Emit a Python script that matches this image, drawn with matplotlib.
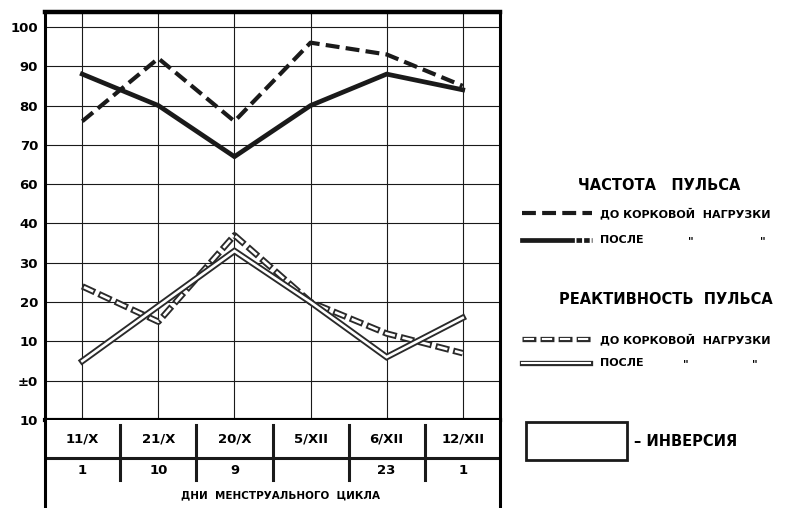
import matplotlib
matplotlib.use("Agg")
import matplotlib.pyplot as plt
from matplotlib.patches import Rectangle

plt.rcParams['font.family'] = ['DejaVu Sans']
plt.rcParams['font.weight'] = 'bold'
plt.rcParams['lines.scale_dashes'] = False

# данные
dates = ['11/X', '21/X', '20/X', '5/XII', '6/XII', '12/XII']
cycle_days = ['1', '10', '9', '', '23', '1']
pulse_before = [76, 92, 76, 96, 93, 85]
pulse_after = [88, 80, 67, 80, 88, 84]
react_before = [24, 15, 37, 20, 12, 7]
react_after = [5, 19, 33, 20, 6, 16]
ytick_labels = ['10', '±0', '10', '20', '30', '40', '60', '70', '80', '90', '100']

INK = '#1a1a1a'
DASH = (0, (10, 4.5))


# шкала с разрывом: 60..100 сверху, -10..40 снизу
def pulse_row(v):
    return v / 10.0


def react_row(v):
    return (v + 10) / 10.0


def hollow(ax, x, y, dashed=False, outer=4.6, inner=1.9, color='#2a2a2a', **kw):
    if dashed:
        on, off, d = 10.0, 3.0, 1.3
        ax.plot(x, y, color=color, lw=outer, linestyle=(0, (on, off)),
                solid_joinstyle='miter', **kw)
        ax.plot(x, y, color='white', lw=inner,
                linestyle=(on + off - d, (on - 2 * d, off + 2 * d)), **kw)
    else:
        ax.plot(x, y, color=color, lw=outer, solid_joinstyle='miter', **kw)
        ax.plot(x, y, color='white', lw=inner, solid_joinstyle='miter', **kw)


fig = plt.figure(figsize=(8.05, 5.08), dpi=100)
W, H = 805.0, 508.0

ax = fig.add_axes([45 / W, 1 - 420 / H, 455 / W, 408 / H])
xs = list(range(len(dates)))

ax.plot(xs, [pulse_row(v) for v in pulse_before], color=INK, lw=3.0,
        linestyle=DASH, zorder=4)
ax.plot(xs, [pulse_row(v) for v in pulse_after], color=INK, lw=3.4,
        solid_joinstyle='miter', zorder=4)
hollow(ax, xs, [react_row(v) for v in react_before], dashed=True, zorder=3)
hollow(ax, xs, [react_row(v) for v in react_after], zorder=3)

ax.set_xlim(-0.49, 5.49)
ax.set_ylim(0, 10.38)
ax.set_xticks(xs)
ax.set_xticklabels([])
ax.set_yticks(range(len(ytick_labels)))
ax.set_yticklabels(ytick_labels, fontsize=9.5, fontweight='bold')
ax.tick_params(length=0, pad=5)
ax.grid(True, color=INK, lw=0.8)
ax.set_axisbelow(True)
for side in ['left', 'right']:
    ax.spines[side].set_linewidth(2.2)
ax.spines['top'].set_linewidth(3.2)
ax.spines['bottom'].set_linewidth(3.0)

# таблица под графиком
tab = fig.add_axes([45 / W, 0, 455 / W, 88 / H])
tab.set_xlim(-0.49, 5.49)
tab.set_ylim(0, 88)
tab.set_xticks([])
tab.set_yticks([])
tab.spines['top'].set_visible(False)
tab.spines['bottom'].set_visible(False)
tab.spines['left'].set_linewidth(2.2)
tab.spines['right'].set_linewidth(2.2)
tab.axhline(50, color=INK, lw=2.2)
for i, (d, n) in enumerate(zip(dates, cycle_days)):
    tab.text(i, 69, d, ha='center', va='center', fontsize=9.5, fontweight='bold')
    tab.text(i, 37, n, ha='center', va='center', fontsize=9.5, fontweight='bold')
for i in range(len(dates) - 1):
    tab.plot([i + 0.5, i + 0.5], [52, 83], color=INK, lw=2.2)
    tab.plot([i + 0.5, i + 0.5], [28, 50], color=INK, lw=2.2)
tab.text(2.6, 13, 'ДНИ  МЕНСТРУАЛЬНОГО  ЦИКЛА', ha='center', va='center',
         fontsize=7.5, fontweight='bold')

# легенда
lg = fig.add_axes([0, 0, 1, 1], zorder=-1)
lg.set_xlim(0, W)
lg.set_ylim(H, 0)
lg.axis('off')

lg.text(659, 185, 'ЧАСТОТА   ПУЛЬСА', ha='center', va='center', fontsize=10.5)
lg.plot([522, 592], [213, 213], color=INK, lw=3.0, linestyle=DASH)
lg.text(600, 213, 'ДО КОРКОВОЙ  НАГРУЗКИ', va='center', fontsize=8)
lg.plot([522, 572], [240, 240], color=INK, lw=3.4)
lg.plot([576, 592], [240, 240], color=INK, lw=3.4, linestyle=(0, (4, 1.5)))
lg.text(600, 240, 'ПОСЛЕ', va='center', fontsize=8)
lg.text(688, 241, '"', va='center', fontsize=8)
lg.text(760, 241, '"', va='center', fontsize=8)

lg.text(666, 300, 'РЕАКТИВНОСТЬ  ПУЛЬСА', ha='center', va='center', fontsize=10.5)
hollow(lg, [522, 592], [339, 339], dashed=True, outer=3.8, inner=1.5)
lg.text(600, 339, 'ДО КОРКОВОЙ  НАГРУЗКИ', va='center', fontsize=8)
hollow(lg, [522, 590], [363, 363], outer=3.8, inner=1.5)
lg.text(600, 363, 'ПОСЛЕ', va='center', fontsize=8)
lg.text(683, 364, '"', va='center', fontsize=8)
lg.text(752, 364, '"', va='center', fontsize=8)

lg.add_patch(Rectangle((526, 422), 101, 38, fill=False, edgecolor=INK, lw=2.0))
lg.text(634, 441, '– ИНВЕРСИЯ', va='center', fontsize=10.5)

fig.savefig('out.png', dpi=100)
